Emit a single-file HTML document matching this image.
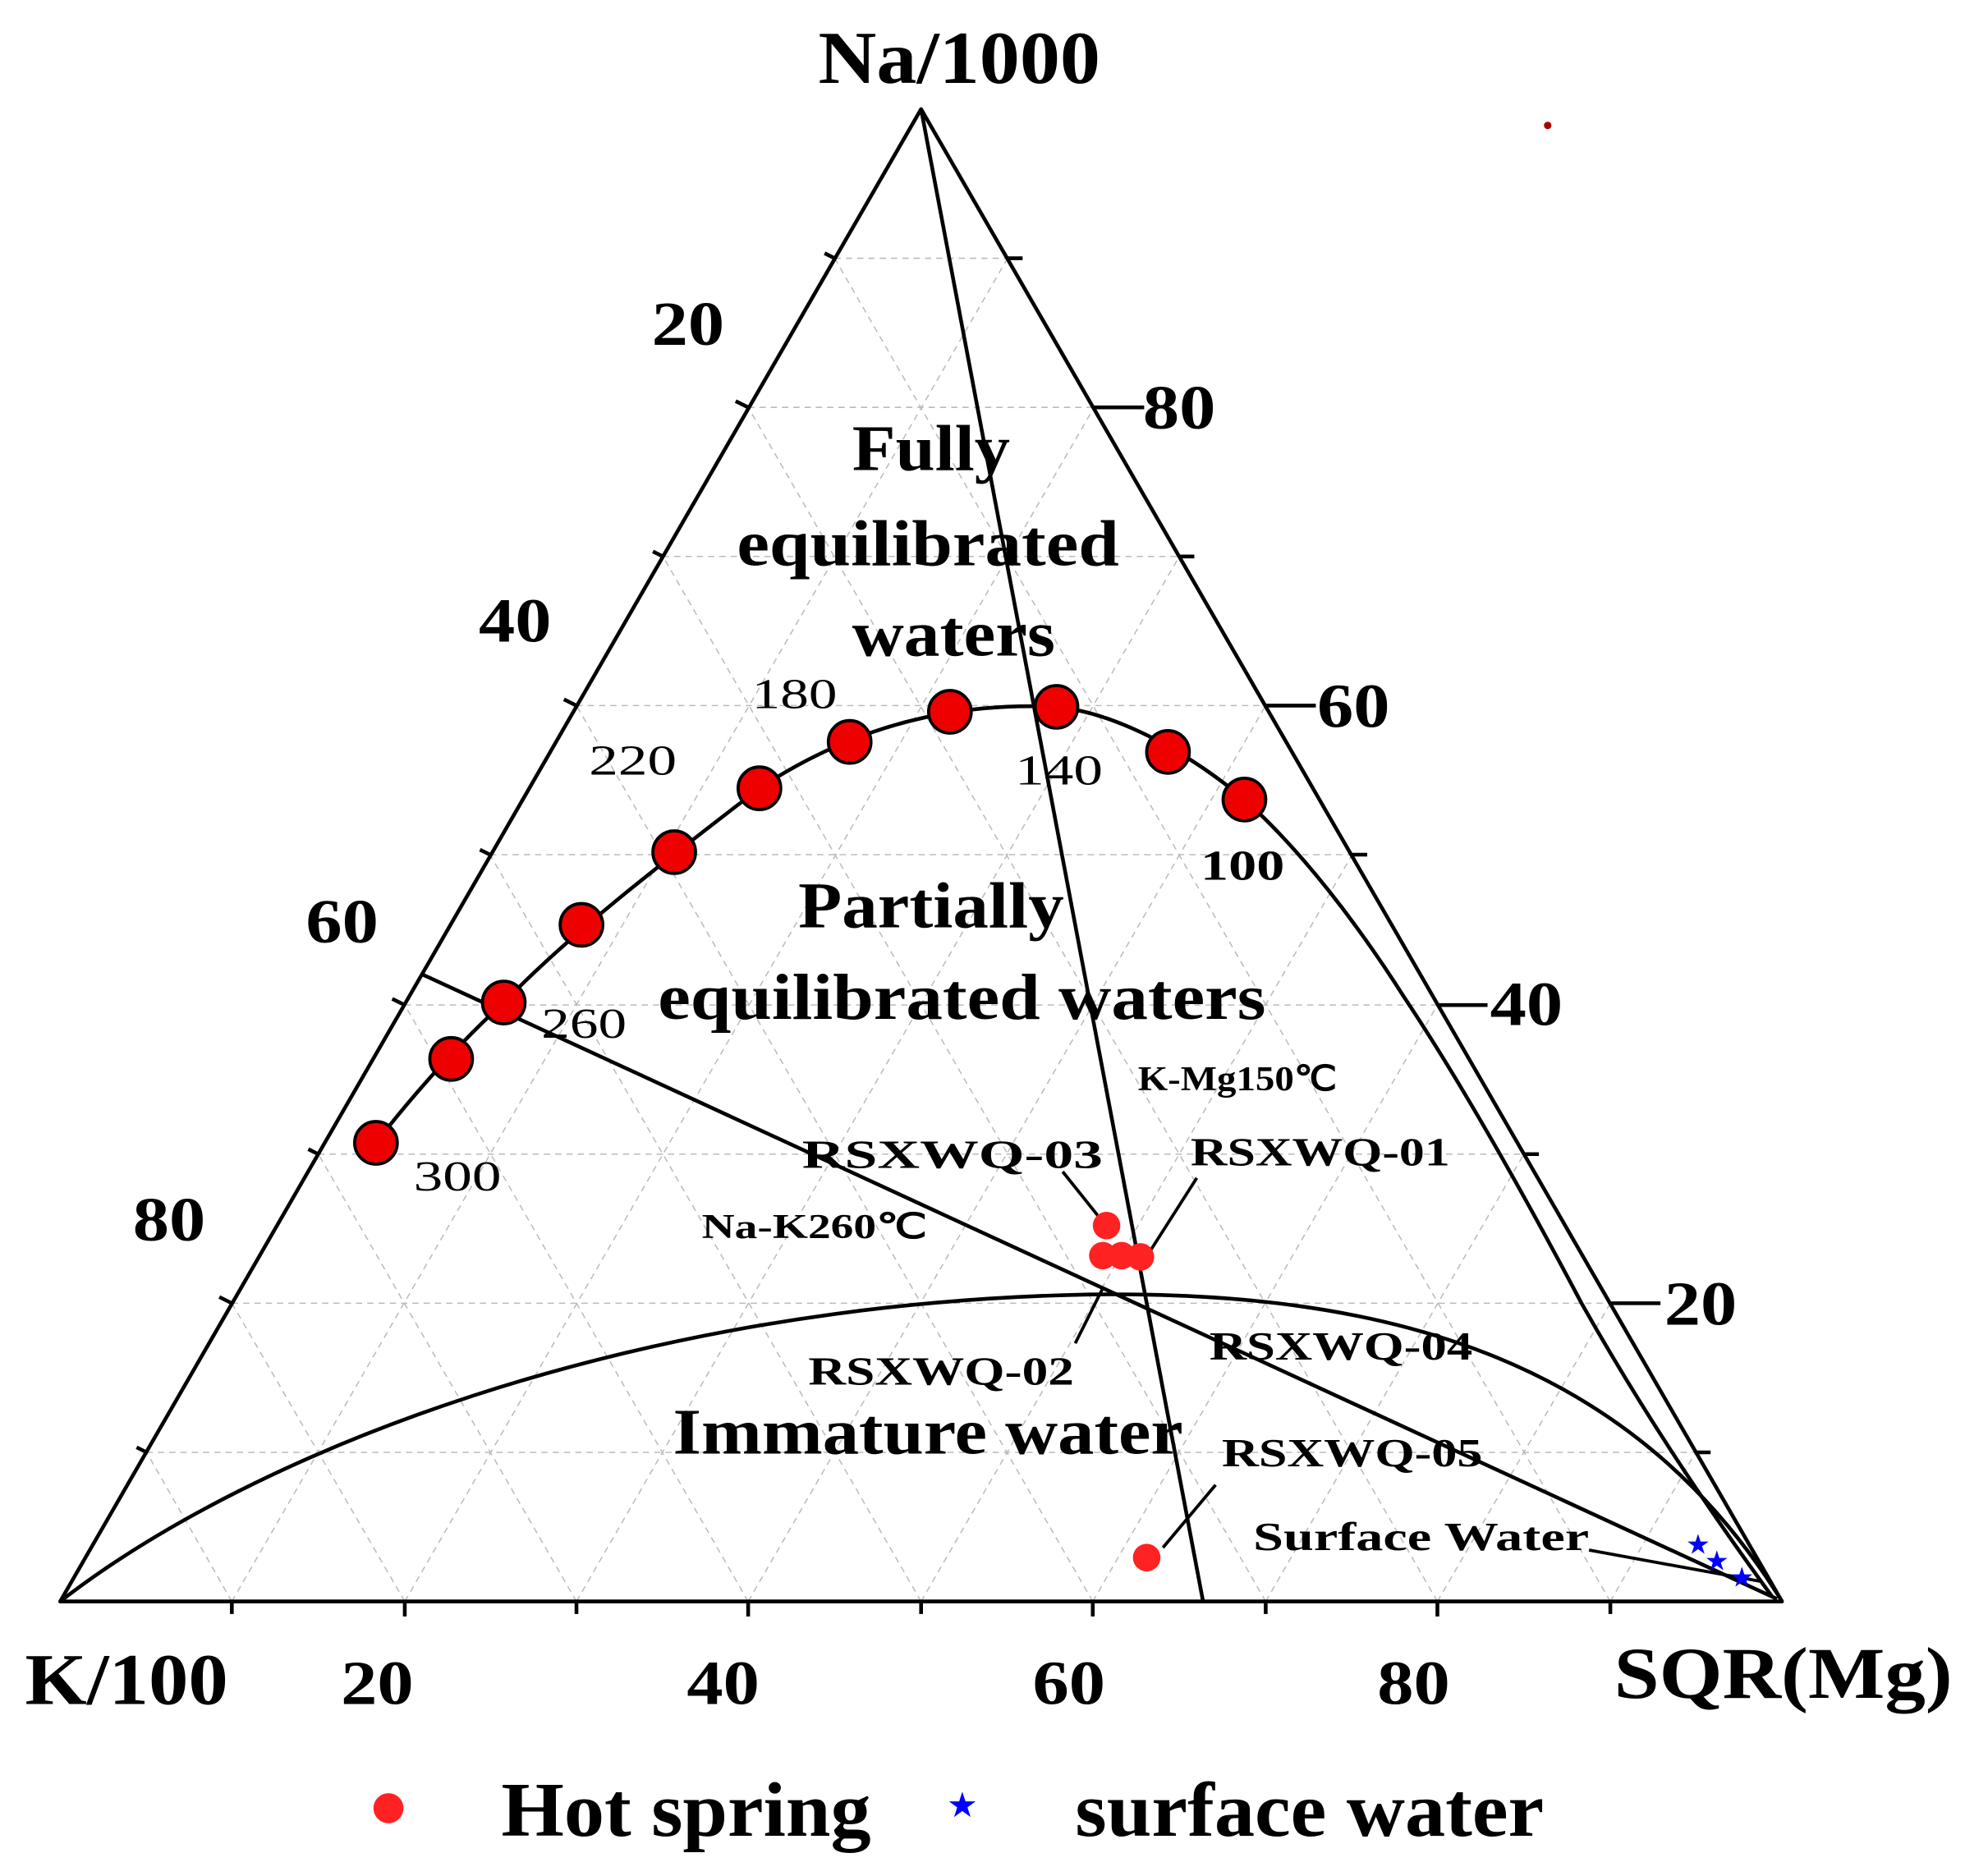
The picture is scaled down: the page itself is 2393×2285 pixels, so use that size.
<!DOCTYPE html>
<html><head><meta charset="utf-8"><style>html,body{margin:0;padding:0;background:#fff}svg{display:block}</style></head>
<body>
<svg width="2393" height="2285" viewBox="0 0 1568 1497" xmlns="http://www.w3.org/2000/svg" font-family="Liberation Serif, serif" font-weight="bold">
<rect width="1568" height="1497" fill="#fff"/>
<g stroke="#bbb" stroke-width="1" stroke-dasharray="5,4" fill="none">
<line x1="117" y1="1159" x2="1353" y2="1159"/><line x1="185" y1="1040" x2="1285" y2="1040"/>
<line x1="254" y1="921" x2="1216" y2="921"/><line x1="323" y1="802" x2="1147" y2="802"/>
<line x1="391" y1="682" x2="1079" y2="682"/><line x1="460" y1="563" x2="1010" y2="563"/>
<line x1="529" y1="444" x2="941" y2="444"/><line x1="597" y1="325" x2="873" y2="325"/>
<line x1="666" y1="206" x2="804" y2="206"/>
<line x1="185" y1="1278" x2="804" y2="206"/><line x1="323" y1="1278" x2="873" y2="325"/>
<line x1="460" y1="1278" x2="941" y2="444"/><line x1="597" y1="1278" x2="1010" y2="563"/>
<line x1="735" y1="1278" x2="1079" y2="682"/><line x1="872" y1="1278" x2="1147" y2="802"/>
<line x1="1010" y1="1278" x2="1216" y2="921"/><line x1="1147" y1="1278" x2="1285" y2="1040"/>
<line x1="1285" y1="1278" x2="1353" y2="1159"/>
<line x1="1285" y1="1278" x2="666" y2="206"/><line x1="1147" y1="1278" x2="597" y2="325"/>
<line x1="1010" y1="1278" x2="529" y2="444"/><line x1="872" y1="1278" x2="460" y2="563"/>
<line x1="735" y1="1278" x2="391" y2="682"/><line x1="597" y1="1278" x2="323" y2="802"/>
<line x1="460" y1="1278" x2="254" y2="921"/><line x1="323" y1="1278" x2="185" y2="1040"/>
<line x1="185" y1="1278" x2="117" y2="1159"/>
</g>
<g stroke="#000" stroke-width="3" fill="none" stroke-linejoin="round">
<polygon points="735,87 48,1278 1422,1278"/>
<path d="M185,1278v10M323,1278v12M460,1278v10M597,1278v12M735,1278v10M872,1278v12M1010,1278v10M1147,1278v12M1285,1278v10"/>
<path d="M666,206l-8,-4M597,325l-10,-5M529,444l-8,-4M460,563l-10,-5M391,682l-8,-4M323,802l-10,-5M254,921l-8,-4M185,1040l-10,-5M117,1159l-8,-4"/>
<path d="M804,206h12M873,325h40M941,444h12M1010,563h40M1079,682h12M1147,802h40M1216,921h12M1285,1040h40M1353,1159h12"/>
<line x1="735" y1="87" x2="960" y2="1278"/>
<line x1="338" y1="778" x2="1418" y2="1276"/>
<path d="M300,912 C340,860 380,820 402,800 C460,740 540,680 606,629 C680,580 760,560 843,564 C900,570 960,610 993,638 C1040,680 1085,740 1120,795 C1170,870 1225,970 1262,1040 C1310,1125 1360,1200 1414,1274"/>
<path d="M48,1278 C200,1160 500,1040 870,1033 C1100,1030 1300,1080 1422,1278"/>
<g stroke-width="2.5"><line x1="848" y1="935" x2="876" y2="970"/><line x1="955" y1="940" x2="918" y2="998"/>
<line x1="880" y1="1028" x2="858" y2="1072"/><line x1="970" y1="1185" x2="928" y2="1235"/>
<line x1="1268" y1="1237" x2="1405" y2="1262"/></g>
</g>
<g fill="#e00" stroke="#000" stroke-width="2.5">
<circle cx="300" cy="912" r="17"/><circle cx="360" cy="845" r="17"/><circle cx="402" cy="800" r="17"/>
<circle cx="464" cy="738" r="17"/><circle cx="538" cy="680" r="17"/><circle cx="606" cy="629" r="17"/>
<circle cx="678" cy="592" r="17"/><circle cx="758" cy="568" r="17"/><circle cx="843" cy="564" r="17"/>
<circle cx="932" cy="600" r="17"/><circle cx="993" cy="638" r="17"/>
</g>
<g fill="#f22"><circle cx="883" cy="978" r="11"/><circle cx="880" cy="1002" r="11"/><circle cx="895" cy="1002" r="11"/><circle cx="910" cy="1003" r="11"/><circle cx="915" cy="1243" r="11"/>
<circle cx="310" cy="1443" r="12"/></g>
<circle cx="1235" cy="100" r="3" fill="#a00"/>
<g fill="#00f" font-size="22" text-anchor="middle" font-weight="normal"><text x="1355" y="1240">★</text><text x="1370" y="1253">★</text><text x="1390" y="1266">★</text><text x="768" y="1450" font-size="28">★</text></g>
<g fill="#000" lengthAdjust="spacingAndGlyphs">
<text x="653" y="66" font-size="60" textLength="225" lengthAdjust="spacingAndGlyphs">Na/1000</text>
<text x="20" y="1360" font-size="58" textLength="162" lengthAdjust="spacingAndGlyphs">K/100</text>
<text x="1288" y="1355" font-size="58" textLength="270" lengthAdjust="spacingAndGlyphs">SQR(Mg)</text>
<g font-size="50">
<text x="520" y="275" textLength="58" lengthAdjust="spacingAndGlyphs">20</text>
<text x="382" y="512" textLength="58" lengthAdjust="spacingAndGlyphs">40</text>
<text x="244" y="752" textLength="58" lengthAdjust="spacingAndGlyphs">60</text>
<text x="106" y="990" textLength="58" lengthAdjust="spacingAndGlyphs">80</text>
<text x="272" y="1360" textLength="58" lengthAdjust="spacingAndGlyphs">20</text>
<text x="548" y="1360" textLength="58" lengthAdjust="spacingAndGlyphs">40</text>
<text x="824" y="1360" textLength="58" lengthAdjust="spacingAndGlyphs">60</text>
<text x="1099" y="1360" textLength="58" lengthAdjust="spacingAndGlyphs">80</text>
<text x="912" y="342" textLength="58" lengthAdjust="spacingAndGlyphs">80</text>
<text x="1051" y="580" textLength="58" lengthAdjust="spacingAndGlyphs">60</text>
<text x="1189" y="818" textLength="58" lengthAdjust="spacingAndGlyphs">40</text>
<text x="1328" y="1057" textLength="58" lengthAdjust="spacingAndGlyphs">20</text></g>
<g font-size="52">
<text x="680" y="375" textLength="126" lengthAdjust="spacingAndGlyphs">Fully</text>
<text x="588" y="451" textLength="305" lengthAdjust="spacingAndGlyphs">equilibrated</text>
<text x="680" y="523" textLength="162" lengthAdjust="spacingAndGlyphs">waters</text>
<text x="637" y="740" textLength="212" lengthAdjust="spacingAndGlyphs">Partially</text>
<text x="525" y="813" textLength="485" lengthAdjust="spacingAndGlyphs">equilibrated waters</text>
<text x="537" y="1160" textLength="407" lengthAdjust="spacingAndGlyphs">Immature water</text></g>
<g font-size="34" font-weight="normal">
<text x="600" y="565" textLength="68" lengthAdjust="spacingAndGlyphs">180</text>
<text x="470" y="618" textLength="70" lengthAdjust="spacingAndGlyphs">220</text>
<text x="810" y="626" textLength="70" lengthAdjust="spacingAndGlyphs">140</text>
<text x="432" y="828" textLength="68" lengthAdjust="spacingAndGlyphs">260</text>
<text x="330" y="950" textLength="70" lengthAdjust="spacingAndGlyphs">300</text></g>
<text x="958" y="702" font-size="34" textLength="67" lengthAdjust="spacingAndGlyphs">100</text>
<g font-size="32">
<text x="640" y="932" textLength="240" lengthAdjust="spacingAndGlyphs">RSXWQ-03</text>
<text x="950" y="930" textLength="207" lengthAdjust="spacingAndGlyphs">RSXWQ-01</text>
<text x="645" y="1105" textLength="212" lengthAdjust="spacingAndGlyphs">RSXWQ-02</text>
<text x="965" y="1085" textLength="210" lengthAdjust="spacingAndGlyphs">RSXWQ-04</text>
<text x="975" y="1170" textLength="208" lengthAdjust="spacingAndGlyphs">RSXWQ-05</text>
<text x="1000" y="1237" textLength="268" lengthAdjust="spacingAndGlyphs">Surface  Water</text></g>
<g font-size="28">
<text x="908" y="870" textLength="159" lengthAdjust="spacingAndGlyphs">K-Mg150℃</text>
<text x="560" y="988" textLength="180" lengthAdjust="spacingAndGlyphs">Na-K260℃</text></g>
<text x="400" y="1465" font-size="62" textLength="295" lengthAdjust="spacingAndGlyphs">Hot spring</text>
<text x="858" y="1465" font-size="62" textLength="374" lengthAdjust="spacingAndGlyphs">surface water</text>
</g>
</svg>
</body></html>
